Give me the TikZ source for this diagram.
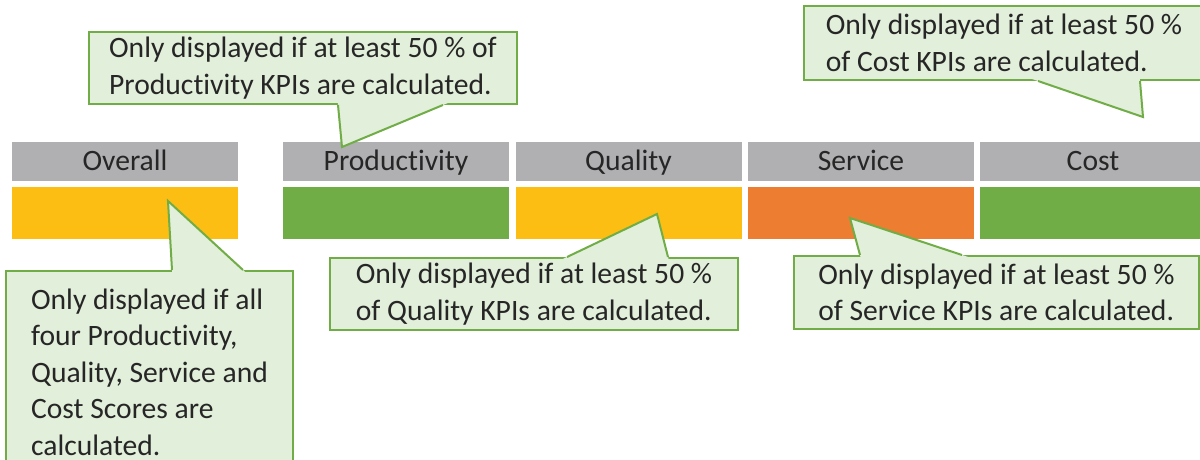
\documentclass[tikz,border=0pt]{standalone}
\usepackage{fontspec}
\setmainfont[Ligatures=NoCommon]{Carlito}
\usetikzlibrary{calc}
\definecolor{hdrgray}{RGB}{176,176,178}
\definecolor{baryellow}{RGB}{252,190,18}
\definecolor{bargreen}{RGB}{112,173,71}
\definecolor{barorange}{RGB}{237,125,49}
\definecolor{notefill}{RGB}{226,239,218}
\definecolor{noteline}{RGB}{112,173,71}
\definecolor{txtgray}{RGB}{38,38,38}
\tikzset{
	hdr/.style={fill=hdrgray,text=txtgray,minimum width=113pt,minimum height=19.5pt,inner sep=0pt,text height=11pt,text depth=2.5pt},
	bar/.style={minimum width=113pt,minimum height=26pt,inner sep=0pt},
	note/.style={fill=notefill,draw=noteline,line width=1pt,text=txtgray,align=left,anchor=north west,inner sep=0pt},
	tail/.style={draw=noteline,line width=1pt}
}
\newcommand{\calltail}[3]{%
	\fill[notefill] ($(#1)!1.06!(#2)$) -- (#1) -- ($(#1)!1.06!(#3)$) -- cycle;
	\draw[tail] (#2) -- (#1) -- (#3);}
\begin{document}
\begin{tikzpicture}[x=0.5pt,y=-0.5pt,font=\fontsize{14.8pt}{18.2pt}\selectfont]
	\useasboundingbox (0,0) rectangle (1200,460);
	\clip (0,0) rectangle (1200,460);
	\node[hdr] (hov) at (125,161.5) {Overall};
	\node[hdr] (hpr) at (396,161.5) {Productivity};
	\node[hdr] (hqu) at (628.5,161.5) {Quality};
	\node[hdr] (hse) at (861,161.5) {Service};
	\node[hdr] (hco) at (1093,161.5) {Cost};
	\node[bar,fill=baryellow] (bov) at (125,213) {};
	\node[bar,fill=bargreen] (bpr) at (396,213) {};
	\node[bar,fill=baryellow] (bqu) at (628.5,213) {};
	\node[bar,fill=barorange] (bse) at (861,213) {};
	\node[bar,fill=bargreen] (bco) at (1093,213) {};
	\node[note,minimum width=143.5pt,inner ysep=9pt] (nov) at (5,270) {Only displayed if all\\four Productivity,\\Quality, Service and\\Cost Scores are\\calculated.};
	\node[note,minimum width=214pt,minimum height=36pt] (npr) at (88,31) {Only displayed if at least 50 \% of\\Productivity KPIs are calculated.};
	\node[note,minimum width=204pt,minimum height=36pt] (nqu) at (329,257) {Only displayed if at least 50 \%\\of Quality KPIs are calculated.};
	\node[note,minimum width=202.5pt,minimum height=36.5pt] (nse) at (793,255) {Only displayed if at least 50 \%\\of Service KPIs are calculated.};
	\node[note,minimum width=200pt,minimum height=37pt] (nco) at (803,5) {Only displayed if at least 50 \%\\of Cost KPIs are calculated.};
	\coordinate (tov) at (168,201);
	\coordinate (tpr) at (342,147);
	\coordinate (tqu) at (657,214);
	\coordinate (tse) at (850,218);
	\coordinate (tco) at (1143,117);
	\coordinate (ov1) at ($(nov.north west)+(167,0)$);
	\coordinate (ov2) at ($(nov.north west)+(238,0)$);
	\coordinate (pr1) at ($(npr.south west)+(250,0)$);
	\coordinate (pr2) at ($(npr.south west)+(355,0)$);
	\coordinate (qu1) at ($(nqu.north west)+(238,0)$);
	\coordinate (qu2) at ($(nqu.north west)+(339,0)$);
	\coordinate (se1) at ($(nse.north west)+(67,0)$);
	\coordinate (se2) at ($(nse.north west)+(169,0)$);
	\coordinate (co1) at ($(nco.south west)+(235,0)$);
	\coordinate (co2) at ($(nco.south west)+(337,0)$);
	\calltail{tov}{ov1}{ov2}
	\calltail{tpr}{pr1}{pr2}
	\calltail{tqu}{qu1}{qu2}
	\calltail{tse}{se1}{se2}
	\calltail{tco}{co1}{co2}
\end{tikzpicture}
\end{document}
